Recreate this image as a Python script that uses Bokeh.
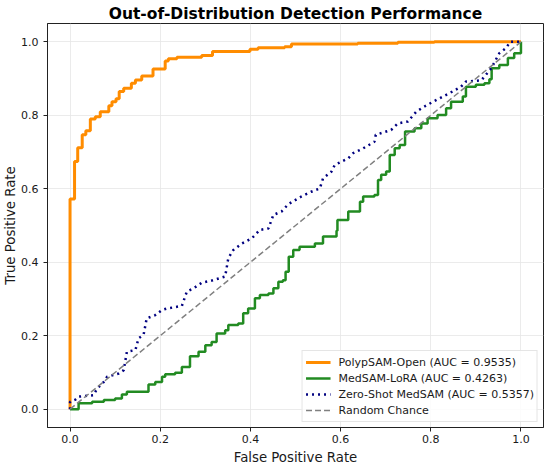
from bokeh.plotting import figure
from bokeh.models import Range1d, FixedTicker, PrintfTickFormatter, Legend, LegendItem
from bokeh.embed import file_html
from bokeh.resources import INLINE

# ---- data ----
polyp_fpr = [0.0, 0.0, 0.010, 0.017, 0.027, 0.035, 0.045, 0.056, 0.067, 0.086, 0.093, 0.102,
             0.109, 0.119, 0.136, 0.145, 0.159, 0.184, 0.211, 0.218, 0.237, 0.292, 0.316,
             0.399, 0.417, 0.476, 0.491, 0.638, 0.727, 0.808, 1.0]
polyp_tpr = [0.0, 0.572, 0.674, 0.712, 0.747, 0.758, 0.790, 0.796, 0.810, 0.826, 0.837, 0.845,
             0.865, 0.874, 0.887, 0.896, 0.907, 0.926, 0.948, 0.954, 0.958, 0.963, 0.974,
             0.980, 0.984, 0.987, 0.994, 0.996, 0.999, 1.0, 1.0]

lora_fpr = [0.0, 0.019, 0.049, 0.075, 0.100, 0.115, 0.126, 0.174, 0.189, 0.204, 0.211, 0.233,
            0.248, 0.266, 0.285, 0.300, 0.314, 0.325, 0.344, 0.351, 0.373, 0.384, 0.395,
            0.410, 0.421, 0.440, 0.451, 0.462, 0.472, 0.478, 0.485, 0.495, 0.509, 0.543,
            0.561, 0.591, 0.593, 0.617, 0.643, 0.650, 0.675, 0.683, 0.690, 0.701, 0.709,
            0.720, 0.731, 0.743, 0.764, 0.779, 0.793, 0.815, 0.834, 0.845, 0.871, 0.878,
            0.900, 0.919, 0.930, 0.935, 0.952, 0.971, 0.985, 1.0]
lora_tpr = [0.0, 0.016, 0.020, 0.025, 0.029, 0.040, 0.047, 0.067, 0.074, 0.088, 0.095, 0.099,
            0.115, 0.144, 0.156, 0.174, 0.183, 0.206, 0.215, 0.229, 0.233, 0.261, 0.274,
            0.302, 0.311, 0.315, 0.329, 0.347, 0.351, 0.374, 0.415, 0.433, 0.442, 0.451,
            0.470, 0.486, 0.515, 0.538, 0.565, 0.579, 0.583, 0.624, 0.638, 0.647, 0.692,
            0.710, 0.719, 0.756, 0.765, 0.778, 0.792, 0.801, 0.819, 0.837, 0.851, 0.878,
            0.883, 0.887, 0.898, 0.928, 0.937, 0.956, 0.969, 1.0]

zs_fpr = [0.0, 0.0, 0.012, 0.019, 0.052, 0.060, 0.075, 0.082, 0.108, 0.119, 0.126, 0.145,
          0.152, 0.163, 0.170, 0.189, 0.204, 0.215, 0.248, 0.259, 0.274, 0.292, 0.314,
          0.344, 0.351, 0.362, 0.381, 0.403, 0.421, 0.440, 0.451, 0.469, 0.484, 0.513,
          0.535, 0.554, 0.561, 0.580, 0.587, 0.617, 0.628, 0.650, 0.675, 0.678, 0.712,
          0.727, 0.749, 0.768, 0.786, 0.808, 0.841, 0.867, 0.878, 0.912, 0.934, 0.952,
          0.967, 0.976, 1.0]
zs_tpr = [0.0, 0.020, 0.026, 0.034, 0.038, 0.056, 0.074, 0.088, 0.097, 0.106, 0.156, 0.161,
          0.193, 0.202, 0.247, 0.256, 0.270, 0.274, 0.281, 0.320, 0.329, 0.344, 0.350,
          0.361, 0.411, 0.433, 0.451, 0.465, 0.488, 0.492, 0.529, 0.538, 0.558, 0.579,
          0.592, 0.601, 0.628, 0.647, 0.665, 0.683, 0.697, 0.710, 0.728, 0.747, 0.760,
          0.778, 0.783, 0.810, 0.824, 0.839, 0.860, 0.878, 0.892, 0.895, 0.928, 0.969,
          0.983, 1.0, 1.0]

chance_x = [0.0, 1.0]
chance_y = [0.0, 1.0]

labels = ["PolypSAM-Open (AUC = 0.9535)", "MedSAM-LoRA (AUC = 0.4263)",
          "Zero-Shot MedSAM (AUC = 0.5357)", "Random Chance"]
ticks = [0.0, 0.2, 0.4, 0.6, 0.8, 1.0]
title_text = "Out-of-Distribution Detection Performance"
x_label = "False Positive Rate"
y_label = "True Positive Rate"

FONT = "DejaVu Sans"

p = figure(width=550, height=469, x_range=Range1d(-0.05, 1.05), y_range=Range1d(-0.05, 1.05),
           output_backend="svg", toolbar_location=None, title=title_text,
           min_border_left=47, min_border_right=7, min_border_top=23, min_border_bottom=42)
p.title.align = "center"
p.title.text_font = FONT
p.title.text_font_size = "15.5px"
p.title.text_font_style = "bold"
p.title.text_color = "black"
p.title.standoff = 1
p.title.offset = 0

p.background_fill_color = "white"
p.border_fill_color = "white"
p.outline_line_color = "#222222"
p.outline_line_width = 1

r1 = p.step(polyp_fpr, polyp_tpr, mode="after", line_color="#FF8C00", line_width=3)
r2 = p.step(lora_fpr, lora_tpr, mode="after", line_color="#228B22", line_width=2.5)
r3 = p.line(zs_fpr, zs_tpr, line_color="#000080", line_width=2.5, line_dash="2 4")
r4 = p.line(chance_x, chance_y, line_color="#808080", line_width=1.5, line_dash="6 3")

for ax in (p.xaxis[0], p.yaxis[0]):
    ax.ticker = FixedTicker(ticks=ticks)
    ax.formatter = PrintfTickFormatter(format="%.1f")
    ax.minor_tick_line_color = None
    ax.major_tick_in = 0
    ax.major_tick_out = 4
    ax.major_tick_line_color = "#222222"
    ax.axis_line_color = "#222222"
    ax.major_label_text_font = FONT
    ax.major_label_text_font_size = "11px"
    ax.major_label_text_color = "#1a1a1a"
    ax.axis_label_text_font = FONT
    ax.axis_label_text_font_size = "13.3px"
    ax.axis_label_text_font_style = "normal"
    ax.axis_label_text_color = "#1a1a1a"
p.xaxis.major_label_standoff = 3
p.xaxis.axis_label_standoff = 4
p.yaxis.major_label_standoff = 5
p.yaxis.axis_label_standoff = 0
p.xaxis.axis_label = x_label
p.yaxis.axis_label = y_label

p.grid.ticker = FixedTicker(ticks=ticks)
p.grid.grid_line_color = "#e6e6e6"
p.grid.grid_line_width = 0.8

legend = Legend(items=[LegendItem(label=labels[0], renderers=[r1]),
                       LegendItem(label=labels[1], renderers=[r2]),
                       LegendItem(label=labels[2], renderers=[r3]),
                       LegendItem(label=labels[3], renderers=[r4])],
                location="bottom_right")
legend.label_text_font = FONT
legend.label_text_font_size = "11px"
legend.label_text_color = "#1a1a1a"
legend.glyph_width = 25
legend.glyph_height = 16
legend.label_height = 16
legend.spacing = 0
legend.padding = 3
legend.margin = 5
legend.label_standoff = 8
legend.border_line_color = "#cccccc"
legend.border_line_width = 1
legend.background_fill_alpha = 0.85
p.add_layout(legend, "center")

open("out.html", "w").write(file_html(p, INLINE))
